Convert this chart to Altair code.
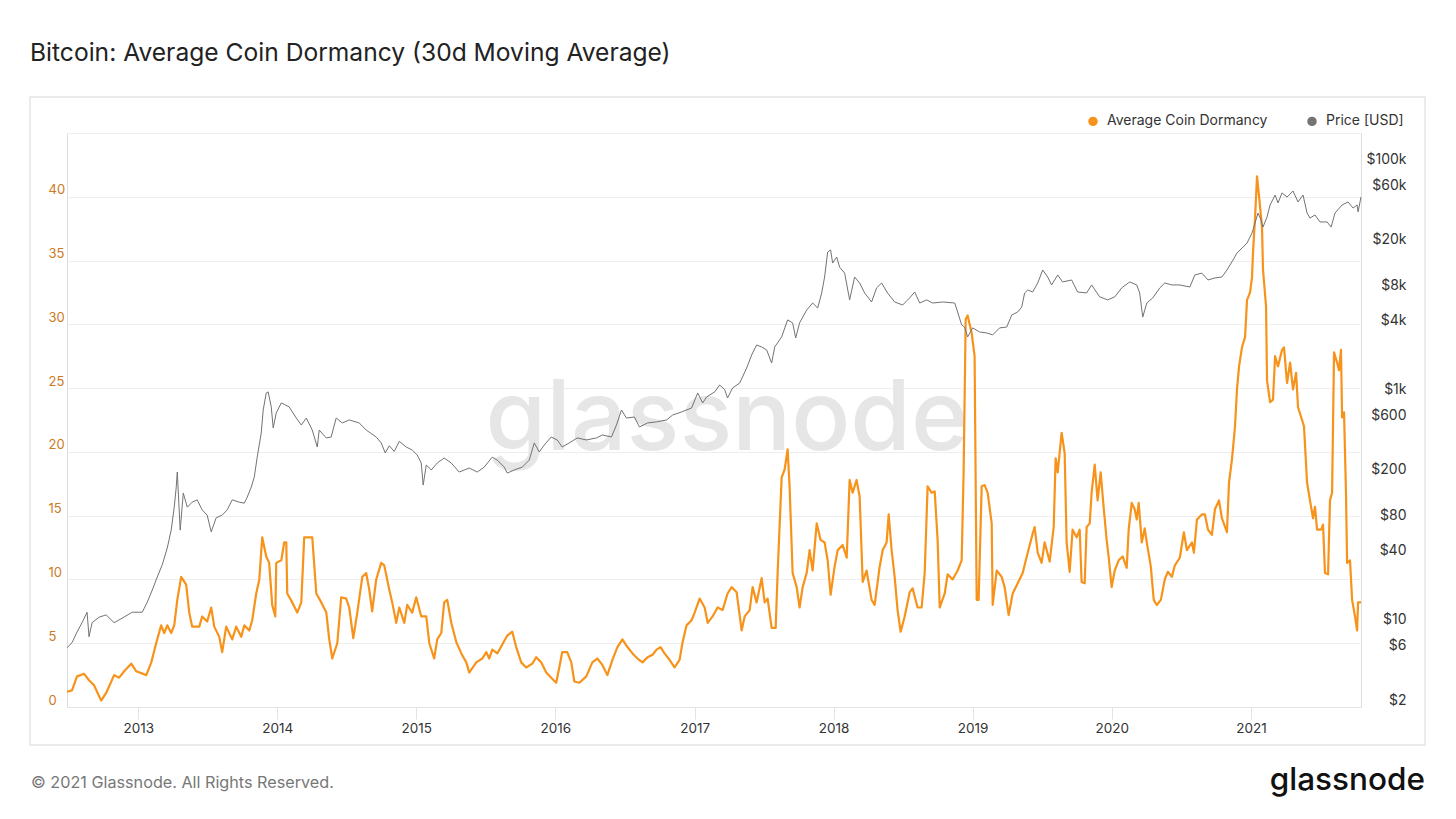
import altair as alt
import pandas as pd

# ---------------- data ----------------
# time as decimal years
dorm_t = [2012.489, 2012.525, 2012.561, 2012.612, 2012.647, 2012.683, 2012.734, 2012.770, 2012.827, 2012.863,
          2012.899, 2012.950, 2012.986, 2013.058, 2013.094, 2013.129, 2013.165, 2013.187, 2013.209, 2013.237,
          2013.259, 2013.281, 2013.309, 2013.345, 2013.367, 2013.388, 2013.439, 2013.460, 2013.496, 2013.525,
          2013.547, 2013.583, 2013.604, 2013.633, 2013.676, 2013.705, 2013.741, 2013.763, 2013.799, 2013.820,
          2013.849, 2013.871, 2013.892, 2013.921, 2013.942, 2013.964, 2013.986, 2013.993, 2014.029, 2014.050,
          2014.065, 2014.072, 2014.108, 2014.144, 2014.173, 2014.194, 2014.252, 2014.281, 2014.317, 2014.353,
          2014.374, 2014.396, 2014.432, 2014.460, 2014.496, 2014.518, 2014.547, 2014.576, 2014.612, 2014.640,
          2014.662, 2014.683, 2014.712, 2014.748, 2014.770, 2014.806, 2014.827, 2014.856, 2014.878, 2014.914,
          2014.935, 2014.971, 2015.000, 2015.036, 2015.072, 2015.094, 2015.129, 2015.151, 2015.180, 2015.201,
          2015.223, 2015.252, 2015.288, 2015.324, 2015.360, 2015.381, 2015.432, 2015.475, 2015.504, 2015.525,
          2015.547, 2015.583, 2015.619, 2015.655, 2015.691, 2015.719, 2015.755, 2015.791, 2015.835, 2015.863,
          2015.899, 2015.935, 2015.971, 2016.007, 2016.029, 2016.050, 2016.086, 2016.115, 2016.137, 2016.173,
          2016.223, 2016.266, 2016.302, 2016.338, 2016.374, 2016.410, 2016.446, 2016.482, 2016.518, 2016.554,
          2016.590, 2016.626, 2016.662, 2016.698, 2016.727, 2016.755, 2016.784, 2016.820, 2016.856, 2016.892,
          2016.914, 2016.942, 2016.978, 2017.000, 2017.036, 2017.072, 2017.094, 2017.129, 2017.165, 2017.201,
          2017.237, 2017.266, 2017.302, 2017.338, 2017.360, 2017.396, 2017.417, 2017.446, 2017.482, 2017.504,
          2017.525, 2017.554, 2017.583, 2017.597, 2017.626, 2017.647, 2017.669, 2017.683, 2017.705, 2017.734,
          2017.755, 2017.777, 2017.806, 2017.827, 2017.849, 2017.878, 2017.906, 2017.935, 2017.957, 2017.978,
          2018.007, 2018.029, 2018.065, 2018.094, 2018.115, 2018.137, 2018.165, 2018.187, 2018.209, 2018.237,
          2018.273, 2018.295, 2018.331, 2018.353, 2018.381, 2018.396, 2018.417, 2018.439, 2018.460, 2018.482,
          2018.511, 2018.547, 2018.568, 2018.604, 2018.633, 2018.655, 2018.676, 2018.705, 2018.727, 2018.748,
          2018.763, 2018.799, 2018.820, 2018.856, 2018.892, 2018.921, 2018.935, 2018.950, 2018.964, 2018.993,
          2019.014, 2019.029, 2019.043, 2019.065, 2019.086, 2019.108, 2019.137, 2019.144, 2019.173, 2019.209,
          2019.230, 2019.259, 2019.288, 2019.324, 2019.360, 2019.396, 2019.432, 2019.446, 2019.468, 2019.496,
          2019.518, 2019.554, 2019.583, 2019.597, 2019.612, 2019.640, 2019.662, 2019.676, 2019.698, 2019.719,
          2019.748, 2019.770, 2019.784, 2019.806, 2019.820, 2019.842, 2019.856, 2019.878, 2019.899, 2019.921,
          2019.942, 2019.964, 2019.978, 2020.000, 2020.022, 2020.050, 2020.079, 2020.108, 2020.122, 2020.144,
          2020.165, 2020.180, 2020.194, 2020.216, 2020.237, 2020.252, 2020.281, 2020.302, 2020.324, 2020.353,
          2020.381, 2020.403, 2020.432, 2020.453, 2020.489, 2020.518, 2020.540, 2020.576, 2020.590, 2020.612,
          2020.647, 2020.669, 2020.691, 2020.719, 2020.741, 2020.770, 2020.791, 2020.827, 2020.842, 2020.863,
          2020.885, 2020.899, 2020.914, 2020.935, 2020.957, 2020.971, 2020.993, 2021.007, 2021.014, 2021.029,
          2021.043, 2021.058, 2021.079, 2021.086, 2021.108, 2021.115, 2021.137, 2021.158, 2021.173, 2021.194,
          2021.223, 2021.237, 2021.259, 2021.281, 2021.302, 2021.324, 2021.338, 2021.367, 2021.381, 2021.403,
          2021.424, 2021.446, 2021.460, 2021.475, 2021.504, 2021.518, 2021.532, 2021.554, 2021.568, 2021.583,
          2021.597, 2021.619, 2021.633, 2021.647, 2021.655, 2021.669, 2021.683, 2021.691, 2021.712, 2021.727,
          2021.748, 2021.763, 2021.770, 2021.791]

dorm_v = [1.2, 1.3, 2.4, 2.6, 2.1, 1.7, 0.5, 1.1, 2.5, 2.3,
          2.8, 3.4, 2.8, 2.5, 3.5, 5.0, 6.4, 5.8, 6.4, 5.8,
          6.4, 8.4, 10.2, 9.6, 7.4, 6.3, 6.3, 7.1, 6.7, 7.8,
          6.3, 5.5, 4.3, 6.3, 5.3, 6.3, 5.5, 6.4, 6.0, 6.8,
          8.9, 10.0, 13.3, 11.8, 11.3, 8.0, 7.1, 11.3, 11.5, 12.9,
          12.9, 8.9, 8.2, 7.4, 8.2, 13.3, 13.3, 8.9, 8.2, 7.4,
          5.3, 3.8, 5.0, 8.6, 8.5, 7.8, 5.4, 7.4, 10.2, 10.5,
          9.2, 7.5, 10.0, 11.3, 11.1, 9.2, 8.2, 6.6, 7.8, 6.6,
          8.0, 7.4, 8.6, 7.1, 7.1, 5.0, 3.8, 5.3, 5.8, 8.2,
          8.4, 6.6, 5.1, 4.2, 3.5, 2.7, 3.5, 3.8, 4.3, 3.8,
          4.5, 4.2, 4.9, 5.6, 5.9, 4.7, 3.5, 3.1, 3.4, 3.9,
          3.5, 2.7, 2.3, 1.9, 3.1, 4.3, 4.3, 3.5, 2.0, 1.9,
          2.4, 3.5, 3.8, 3.3, 2.5, 3.7, 4.7, 5.3, 4.7, 4.2,
          3.8, 3.5, 3.9, 4.1, 4.5, 4.7, 4.2, 3.7, 3.1, 3.7,
          5.1, 6.4, 6.8, 7.4, 8.5, 7.8, 6.6, 7.1, 7.8, 7.6,
          8.9, 9.4, 9.0, 6.0, 7.1, 7.6, 9.4, 8.2, 10.1, 8.2,
          8.5, 6.2, 6.2, 10.5, 18.0, 18.6, 20.2, 17.3, 10.5, 9.4,
          7.8, 9.4, 10.5, 12.3, 10.7, 14.4, 13.1, 12.9, 11.5, 8.8,
          11.0, 12.3, 12.7, 11.7, 17.8, 16.8, 17.8, 16.5, 9.8, 10.7,
          8.4, 8.0, 11.0, 12.3, 12.9, 15.1, 12.3, 10.2, 7.6, 5.9,
          7.1, 9.0, 9.3, 7.8, 7.8, 10.5, 17.3, 16.8, 16.9, 13.1,
          7.8, 8.9, 10.4, 10.0, 10.7, 11.5, 18.4, 30.4, 30.7, 29.3,
          27.5, 8.4, 8.4, 17.3, 17.4, 16.8, 14.4, 8.0, 10.7, 10.2,
          9.4, 7.2, 8.9, 9.7, 10.5, 12.1, 13.6, 14.1, 12.1, 11.3,
          12.9, 11.4, 14.1, 19.5, 18.4, 21.5, 19.9, 12.9, 10.6, 13.9,
          13.3, 13.9, 9.8, 9.7, 14.1, 14.4, 16.8, 19.0, 16.2, 18.4,
          15.7, 13.1, 11.8, 9.4, 10.7, 11.5, 11.8, 10.9, 13.9, 16.0,
          15.5, 14.7, 16.0, 12.9, 14.0, 12.9, 11.0, 8.4, 8.0, 8.4,
          10.0, 10.6, 10.2, 11.1, 11.7, 13.7, 12.3, 12.9, 12.1, 14.7,
          15.1, 15.1, 13.9, 13.5, 15.5, 16.2, 14.8, 13.7, 17.6, 19.4,
          22.0, 24.9, 26.7, 28.2, 29.0, 31.9, 32.5, 33.7, 35.6, 38.4,
          41.6, 40.0, 37.6, 34.3, 31.4, 25.6, 23.9, 24.1, 27.5, 26.7,
          28.0, 28.2, 25.4, 27.0, 24.9, 26.2, 23.5, 22.5, 22.0, 17.6,
          16.2, 14.8, 15.7, 13.9, 13.9, 14.3, 10.5, 10.4, 16.2, 16.8,
          27.8, 27.0, 26.4, 28.0, 22.7, 23.1, 16.8, 11.3, 11.5, 8.4,
          7.1, 6.0, 8.2, 8.2]

price_t = [2012.489, 2012.525, 2012.561, 2012.597, 2012.633, 2012.647, 2012.669, 2012.719, 2012.770, 2012.827,
           2012.885, 2012.957, 2013.029, 2013.065, 2013.101, 2013.137, 2013.173, 2013.209, 2013.237, 2013.259,
           2013.273, 2013.281, 2013.302, 2013.324, 2013.353, 2013.388, 2013.424, 2013.460, 2013.496, 2013.525,
           2013.561, 2013.604, 2013.640, 2013.676, 2013.727, 2013.763, 2013.784, 2013.813, 2013.835, 2013.856,
           2013.885, 2013.899, 2013.921, 2013.935, 2013.957, 2013.971, 2013.993, 2014.029, 2014.086, 2014.137,
           2014.173, 2014.209, 2014.252, 2014.288, 2014.302, 2014.353, 2014.388, 2014.424, 2014.468, 2014.518,
           2014.590, 2014.640, 2014.712, 2014.748, 2014.777, 2014.806, 2014.842, 2014.878, 2014.928, 2014.971,
           2015.007, 2015.036, 2015.050, 2015.072, 2015.108, 2015.151, 2015.201, 2015.252, 2015.309, 2015.381,
           2015.439, 2015.489, 2015.547, 2015.583, 2015.633, 2015.655, 2015.705, 2015.763, 2015.813, 2015.849,
           2015.885, 2015.921, 2015.971, 2016.014, 2016.050, 2016.101, 2016.158, 2016.223, 2016.295, 2016.338,
           2016.403, 2016.439, 2016.475, 2016.511, 2016.568, 2016.604, 2016.662, 2016.727, 2016.799, 2016.842,
           2016.906, 2016.978, 2017.022, 2017.058, 2017.086, 2017.144, 2017.180, 2017.216, 2017.237, 2017.273,
           2017.324, 2017.374, 2017.410, 2017.446, 2017.482, 2017.518, 2017.554, 2017.576, 2017.626, 2017.669,
           2017.705, 2017.727, 2017.755, 2017.806, 2017.849, 2017.885, 2017.914, 2017.935, 2017.957, 2017.978,
           2017.993, 2018.022, 2018.043, 2018.079, 2018.115, 2018.151, 2018.187, 2018.223, 2018.273, 2018.309,
           2018.345, 2018.388, 2018.439, 2018.496, 2018.547, 2018.583, 2018.619, 2018.669, 2018.712, 2018.784,
           2018.871, 2018.892, 2018.921, 2018.942, 2018.964, 2019.000, 2019.050, 2019.101, 2019.144, 2019.194,
           2019.245, 2019.281, 2019.324, 2019.353, 2019.374, 2019.396, 2019.432, 2019.468, 2019.504, 2019.540,
           2019.568, 2019.612, 2019.647, 2019.712, 2019.755, 2019.820, 2019.856, 2019.914, 2019.971, 2020.022,
           2020.072, 2020.129, 2020.180, 2020.201, 2020.223, 2020.252, 2020.295, 2020.345, 2020.381, 2020.432,
           2020.489, 2020.561, 2020.597, 2020.647, 2020.691, 2020.741, 2020.791, 2020.827, 2020.863, 2020.899,
           2020.935, 2020.971, 2021.007, 2021.029, 2021.050, 2021.072, 2021.086, 2021.115, 2021.137, 2021.173,
           2021.194, 2021.223, 2021.259, 2021.302, 2021.338, 2021.374, 2021.403, 2021.424, 2021.460, 2021.496,
           2021.547, 2021.576, 2021.604, 2021.655, 2021.698, 2021.734, 2021.763, 2021.770, 2021.791]

price_v = [5.7, 6.3, 7.8, 9.4, 11.6, 7.1, 9.4, 10.5, 11.0, 9.4,
           10.3, 11.6, 11.6, 14.2, 18.1, 23.5, 30, 42, 60, 95,
           140, 192, 60, 126, 95, 105, 110, 90, 81, 58,
           77, 81, 90, 110, 105, 103, 116, 142, 174, 259,
           420, 665, 935, 955, 707, 464, 627, 766, 707, 566,
           492, 566, 445, 317, 445, 380, 387, 566, 513, 545,
           513, 445, 387, 344, 281, 325, 290, 355, 317, 298,
           270, 230, 148, 221, 200, 230, 254, 230, 192, 208,
           192, 212, 259, 244, 212, 188, 200, 212, 244, 344,
           287, 330, 387, 365, 317, 344, 380, 365, 380, 403,
           387, 492, 665, 566, 578, 473, 513, 524, 545, 601,
           639, 692, 935, 766, 863, 955, 1096, 1000, 846, 1033,
           1140, 1540, 2000, 2443, 2349, 2213, 1703, 2349, 2871, 4036,
           3800, 2813, 3800, 4920, 5660, 5130, 6920, 9530, 15700, 16400,
           12600, 14200, 11600, 10300, 6030, 9530, 8450, 6920, 5780, 7660,
           8450, 6920, 5780, 5440, 6270, 7060, 5660, 6030, 5660, 5780,
           5660, 4730, 3650, 3500, 2871, 3440, 3170, 3110, 2990, 3440,
           3500, 4450, 4730, 5220, 6920, 7350, 7060, 8450, 10970, 9530,
           8130, 9930, 8630, 8980, 7060, 6920, 8130, 6400, 6030, 6400,
           7660, 8630, 8130, 6920, 4270, 5660, 6270, 7660, 8450, 8130,
           8130, 7800, 9930, 10300, 8980, 9350, 9530, 10970, 12900, 15400,
           17000, 18800, 23000, 28100, 34300, 29900, 25900, 31700, 40300, 49200,
           42000, 51300, 47300, 53300, 42800, 49200, 34300, 31000, 33000, 28700,
           28700, 25900, 34300, 40300, 42800, 37900, 40300, 35100, 47300]

series_names = ["Average Coin Dormancy", "Price [USD]"]
series_colors = ["#f7931a", "#737373"]
year_ticks = [2013, 2014, 2015, 2016, 2017, 2018, 2019, 2020, 2021]
dormancy_ticks = [0, 5, 10, 15, 20, 25, 30, 35, 40, 45]
price_ticks = [2, 6, 10, 40, 80, 200, 600, 1000, 4000, 8000, 20000, 60000, 100000]


def to_date(t):
    y = int(t)
    start = pd.Timestamp(year=y, month=1, day=1)
    end = pd.Timestamp(year=y + 1, month=1, day=1)
    return start + (end - start) * (t - y)


df_dorm = pd.DataFrame({"date": [to_date(t) for t in dorm_t], "value": dorm_v,
                        "series": series_names[0]})
df_price = pd.DataFrame({"date": [to_date(t) for t in price_t], "price": price_v,
                         "series": series_names[1]})

FONT = "Inter"
W, H = 1294, 574

color = alt.Color(
    "series:N",
    scale=alt.Scale(domain=series_names, range=series_colors),
    title=None,
    legend=alt.Legend(
        orient="none", legendX=1019, legendY=-19, direction="horizontal",
        symbolType="circle", symbolSize=20, symbolStrokeWidth=5,
        labelFont=FONT, labelFontSize=14, labelColor="#333333", labelLimit=400,
        labelOffset=7, columnPadding=31,
    ),
)

x_enc = alt.X(
    "date:T",
    title=None,
    scale=alt.Scale(nice=False),
    axis=alt.Axis(
        values=[alt.DateTime(year=y, month=1, date=1) for y in year_ticks],
        format="%Y", grid=False,
        domainColor="#e3e3e3", tickColor="#e3e3e3", tickSize=12,
        labelPadding=2, labelFont=FONT, labelFontSize=13.5, labelColor="#333333",
    ),
)

dorm_line = alt.Chart(df_dorm).mark_line(strokeWidth=2.2, strokeJoin="round").encode(
    x=x_enc,
    y=alt.Y(
        "value:Q", title=None,
        scale=alt.Scale(domain=[0, 45], nice=False),
        axis=alt.Axis(
            orient="left", values=dormancy_ticks,
            labelExpr="datum.value == 45 ? '' : datum.label",
            grid=True, gridColor="#eeeeee", domain=False, ticks=False, tickSize=0,
            labelAlign="left", labelPadding=19, labelBaseline="bottom",
            labelFont=FONT, labelFontSize=13, labelColor="#cc7a1f",
        ),
    ),
    color=color,
)

price_line = alt.Chart(df_price).mark_line(strokeWidth=1).encode(
    x=x_enc,
    y=alt.Y(
        "price:Q", title=None,
        scale=alt.Scale(type="log", domain=[1.739, 170300], nice=False),
        axis=alt.Axis(
            orient="right", values=price_ticks,
            labelExpr="datum.value >= 1000 ? '$' + (datum.value / 1000) + 'k' : '$' + datum.value",
            grid=False, domain=False, ticks=False, tickSize=0, labelOverlap=False,
            labelAlign="right", labelPadding=45, labelBaseline="middle",
            labelFont=FONT, labelFontSize=14, labelColor="#333333",
        ),
    ),
    color=color,
)

one = pd.DataFrame({"k": [0]})

frame_box = alt.Chart(one).mark_rect(
    fill="white", fillOpacity=0, stroke="#e5e5e5", strokeWidth=1.5
).encode(x=alt.value(-37), x2=alt.value(1358), y=alt.value(-36), y2=alt.value(612))

watermark = alt.Chart(pd.DataFrame({"t": ["glassnode"]})).mark_text(
    font=FONT, fontSize=98, fontWeight=500, color="#e6e6e6", align="center",
    baseline="alphabetic"
).encode(text="t:N", x=alt.value(660), y=alt.value(317))

footer = alt.Chart(pd.DataFrame({"t": ["© 2021 Glassnode. All Rights Reserved."]})).mark_text(
    font=FONT, fontSize=16.2, color="#777777", align="left", baseline="alphabetic"
).encode(text="t:N", x=alt.value(-36), y=alt.value(655))

logo = alt.Chart(pd.DataFrame({"t": ["glassnode"]})).mark_text(
    font=FONT, fontSize=31.5, fontWeight=500, color="#111111", align="right",
    baseline="alphabetic"
).encode(text="t:N", x=alt.value(1358), y=alt.value(657))

chart = alt.layer(frame_box, watermark, dorm_line, price_line, footer, logo).resolve_scale(
    y="independent"
).properties(
    width=W, height=H,
    title=alt.TitleParams(
        "Bitcoin: Average Coin Dormancy (30d Moving Average)",
        anchor="start", frame="group", dx=-37, offset=11, baseline="alphabetic",
        font=FONT, fontSize=24.6, fontWeight="normal", color="#222222",
    ),
    autosize=alt.AutoSizeParams(type="none"),
    padding={"left": 59, "top": 125, "right": 87, "bottom": 101},
).configure_view(stroke=None).configure(background="white")

chart.save("out.html", embed_options={"renderer": "svg", "actions": False})
